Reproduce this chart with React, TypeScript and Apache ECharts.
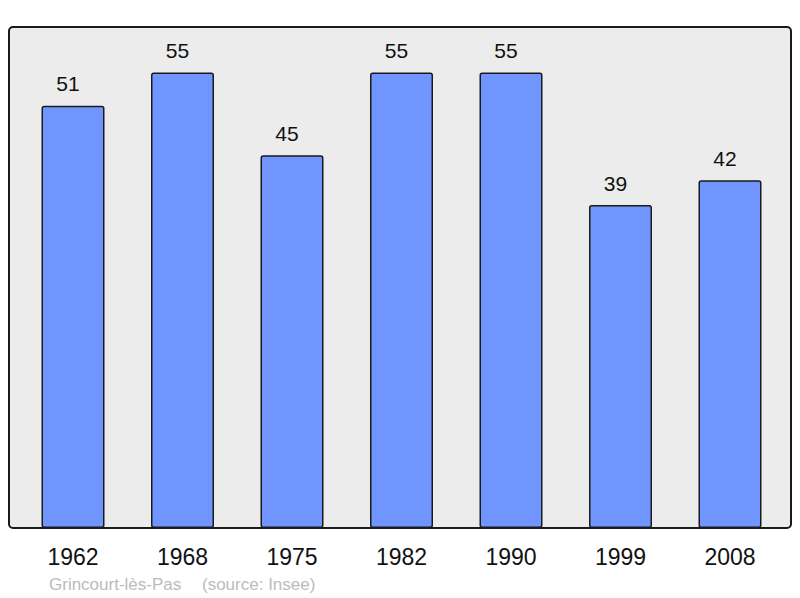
import React, { useEffect, useRef } from "react";
import * as echarts from "echarts";

const years = ["1962", "1968", "1975", "1982", "1990", "1999", "2008"];
const population = [51, 55, 45, 55, 55, 39, 42];
const placeName = "Grincourt-lès-Pas";
const sourceText = "(source: Insee)";

export default function App() {
  const ref = useRef<HTMLDivElement>(null);
  useEffect(() => {
    if (!ref.current) return;
    const chart = echarts.init(ref.current, null, { renderer: "svg" });
    const font = "'Liberation Sans', Arial, sans-serif";
    chart.setOption({
      animation: false,
      backgroundColor: "#ffffff",
      textStyle: { fontFamily: font },
      graphic: [
        {
          type: "rect",
          z: -10,
          shape: { x: 9, y: 27, width: 782, height: 501, r: 4 },
          style: { fill: "#ececec", stroke: "#1a1a1a", lineWidth: 2 },
        },
        {
          type: "text",
          x: 49,
          y: 584.5,
          style: {
            text: placeName,
            fontSize: 17,
            fontFamily: font,
            fill: "#bbbbbb",
            verticalAlign: "middle",
          },
        },
        {
          type: "text",
          x: 202,
          y: 584.5,
          style: {
            text: sourceText,
            fontSize: 17,
            fontFamily: font,
            fill: "#bbbbbb",
            verticalAlign: "middle",
          },
        },
      ],
      grid: { left: 18.25, right: 15.25, top: 27, bottom: 70, containLabel: false },
      xAxis: {
        type: "category",
        data: years,
        axisLine: { show: false },
        axisTick: { show: false },
        axisLabel: { fontSize: 23, color: "#111", margin: 17, fontFamily: font },
      },
      yAxis: {
        type: "value",
        min: 0,
        max: 60.5,
        show: false,
        splitLine: { show: false },
      },
      series: [
        {
          type: "bar",
          data: population,
          barWidth: 63,
          itemStyle: {
            color: "#7095ff",
            borderColor: "#1a1a1a",
            borderWidth: 1.5,
            borderRadius: 2,
          },
          label: {
            show: true,
            position: "top",
            distance: 9,
            offset: [-5, -2.5],
            fontSize: 21,
            color: "#111",
            fontFamily: font,
          },
        },
      ],
    });
    return () => chart.dispose();
  }, []);
  return (
    <div
      ref={ref}
      style={{ position: "fixed", left: 0, top: 0, width: 800, height: 598 }}
    />
  );
}
